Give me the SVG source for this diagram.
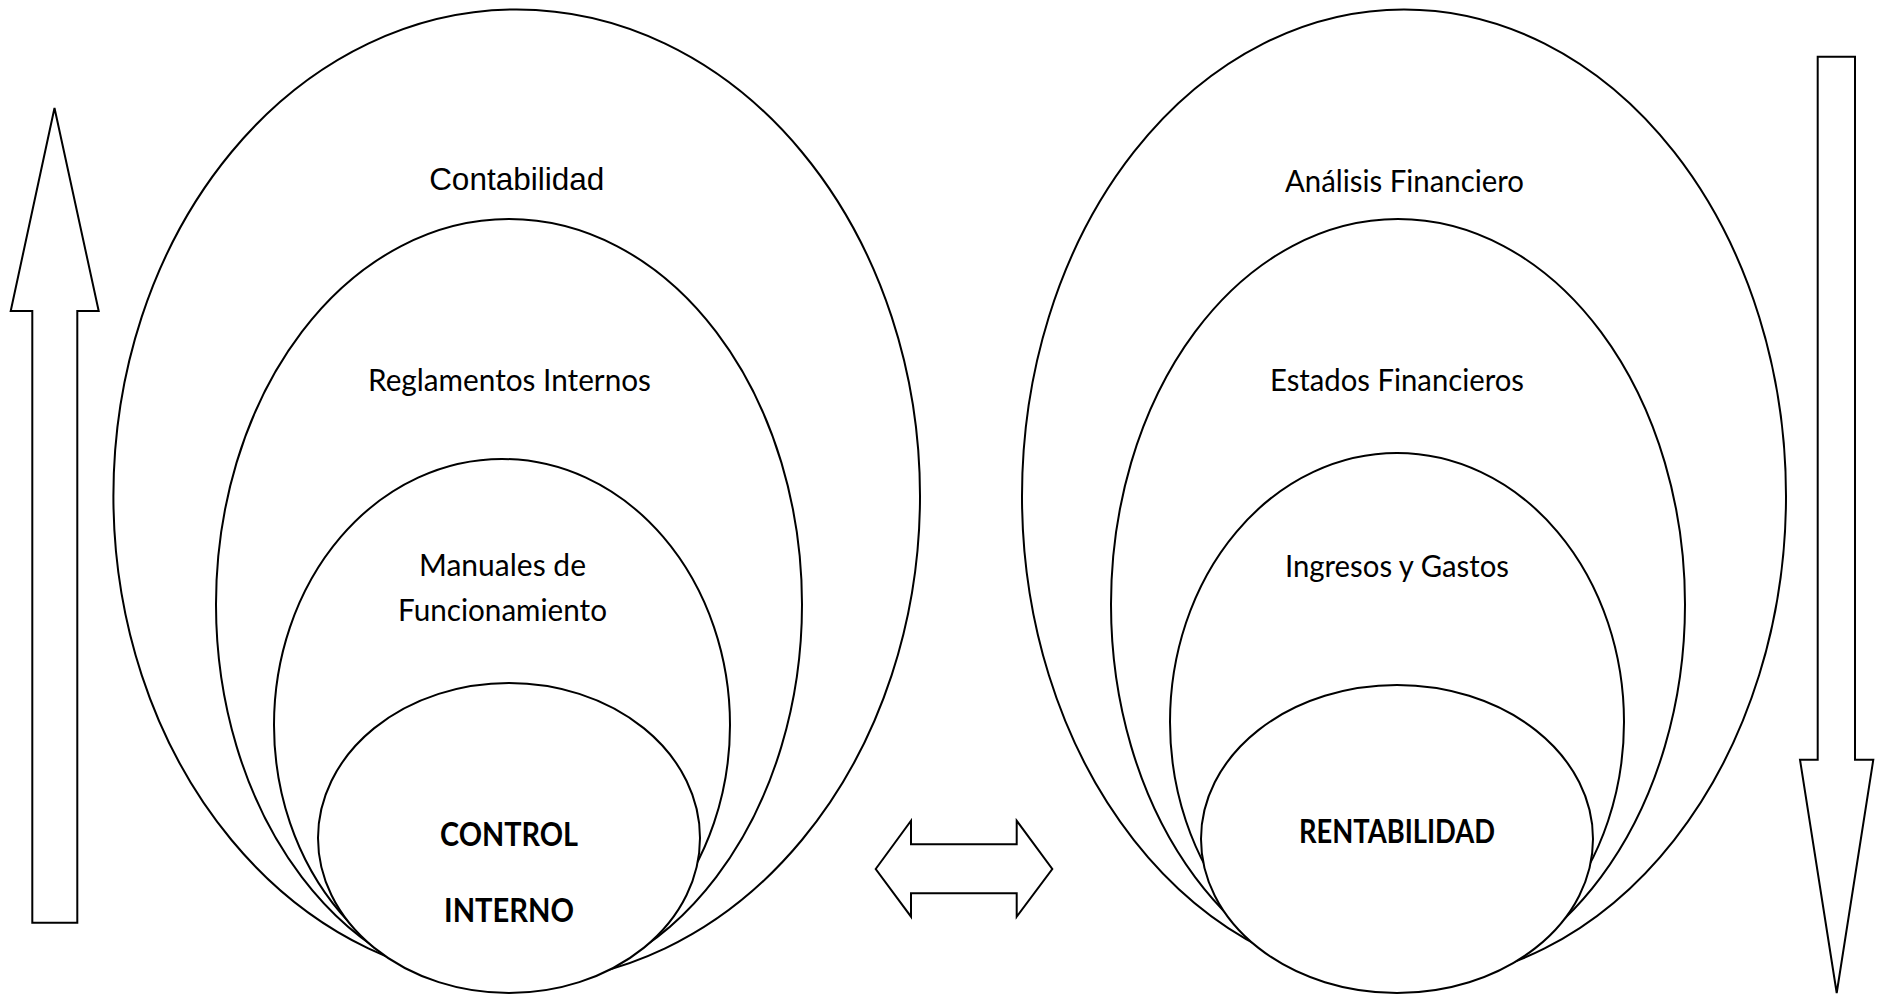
<svg xmlns="http://www.w3.org/2000/svg" width="1879" height="995" viewBox="0 0 1879 995">
<style>
.sh{fill:#fff;stroke:#000;stroke-width:2}
.c{font-family:Lato,"Open Sans","Liberation Sans",sans-serif;font-size:30px;fill:#000;text-anchor:middle}
.b{font-family:Lato,"Open Sans","Liberation Sans",sans-serif;font-size:32px;font-weight:bold;fill:#000;text-anchor:middle}
.a{font-family:"Liberation Sans",Arial,sans-serif;font-size:31.5px;fill:#000;text-anchor:middle}
</style>
<rect width="1879" height="995" fill="#fff"/>
<g id="left-group">
  <g id="contabilidad"><ellipse class="sh" cx="516.7" cy="496" rx="403.3" ry="486.5"/><text class="a" x="516.7" y="190">Contabilidad</text></g>
  <g id="reglamentos"><ellipse class="sh" cx="509" cy="604.5" rx="293" ry="385.5"/><text class="c" x="509.5" y="391" textLength="283" lengthAdjust="spacingAndGlyphs">Reglamentos Internos</text></g>
  <g id="manuales"><ellipse class="sh" cx="502" cy="725" rx="228" ry="266"/><text class="c" x="502.5" y="576" textLength="167" lengthAdjust="spacingAndGlyphs">Manuales de</text><text class="c" x="502.5" y="621" textLength="209" lengthAdjust="spacingAndGlyphs">Funcionamiento</text></g>
  <g id="control-interno"><ellipse class="sh" cx="509" cy="838" rx="191" ry="155"/><text class="b" x="509" y="846" textLength="138" lengthAdjust="spacingAndGlyphs">CONTROL</text><text class="b" x="509" y="922" textLength="130" lengthAdjust="spacingAndGlyphs">INTERNO</text></g>
</g>
<g id="right-group">
  <g id="analisis"><ellipse class="sh" cx="1404" cy="496" rx="382" ry="486.5"/><text class="c" x="1404.5" y="192" textLength="239" lengthAdjust="spacingAndGlyphs">Análisis Financiero</text></g>
  <g id="estados"><ellipse class="sh" cx="1398" cy="604.5" rx="287" ry="385.5"/><text class="c" x="1397" y="391" textLength="254" lengthAdjust="spacingAndGlyphs">Estados Financieros</text></g>
  <g id="ingresos"><ellipse class="sh" cx="1397" cy="722" rx="227" ry="269"/><text class="c" x="1397" y="577" textLength="224" lengthAdjust="spacingAndGlyphs">Ingresos y Gastos</text></g>
  <g id="rentabilidad"><ellipse class="sh" cx="1397" cy="839" rx="196" ry="154"/><text class="b" x="1397" y="843" textLength="196" lengthAdjust="spacingAndGlyphs">RENTABILIDAD</text></g>
</g>
<g id="connectors">
  <polygon id="up-arrow" class="sh" points="54.5,108 98.7,311 77.3,311 77.3,922.7 32.3,922.7 32.3,311 10.7,311"/>
  <polygon id="down-arrow" class="sh" points="1817.7,56.7 1855,56.7 1855,759.7 1873.3,759.7 1836.7,993 1800,759.7 1817.7,759.7"/>
  <polygon id="double-arrow" class="sh" points="875.7,869 911,820.7 911,844.3 1016.7,844.3 1016.7,820.7 1052.3,869 1016.7,916.7 1016.7,893.3 911,893.3 911,916.7"/>
</g>
</svg>
